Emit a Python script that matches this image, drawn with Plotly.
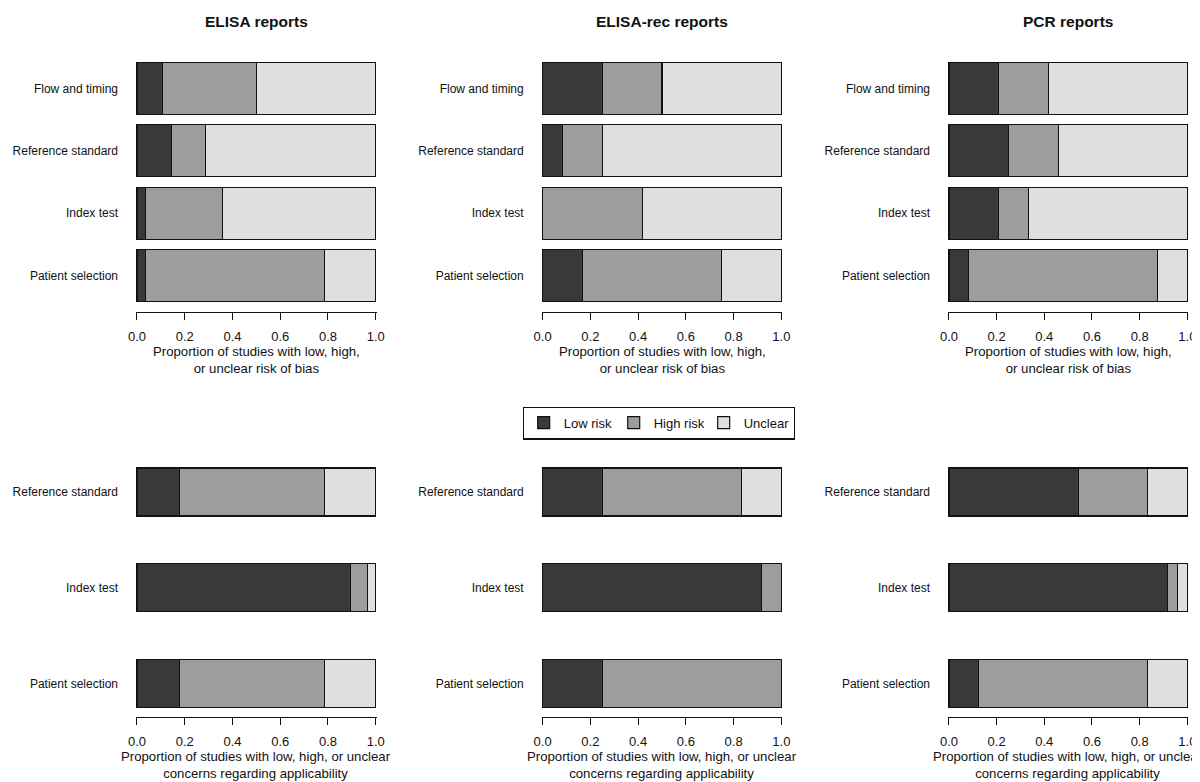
import plotly.graph_objects as go

# ---------------- data ----------------
panel_titles = ["ELISA reports", "ELISA-rec reports", "PCR reports"]
bias_domains = ["Patient selection", "Index test", "Reference standard", "Flow and timing"]
appl_domains = ["Patient selection", "Index test", "Reference standard"]
series_names = ["Low risk", "High risk", "Unclear"]
tick_vals = [0.0, 0.2, 0.4, 0.6, 0.8, 1.0]

# risk of bias (order follows bias_domains)
elisa_bias_low = [0.036, 0.036, 0.143, 0.107]
elisa_bias_high = [0.750, 0.321, 0.143, 0.393]
elisa_bias_unclear = [0.214, 0.643, 0.714, 0.500]

elisarec_bias_low = [0.167, 0.000, 0.083, 0.250]
elisarec_bias_high = [0.583, 0.417, 0.167, 0.250]
elisarec_bias_unclear = [0.250, 0.583, 0.750, 0.500]

pcr_bias_low = [0.083, 0.208, 0.250, 0.208]
pcr_bias_high = [0.792, 0.125, 0.208, 0.208]
pcr_bias_unclear = [0.125, 0.667, 0.542, 0.583]

# applicability concerns (order follows appl_domains)
elisa_appl_low = [0.179, 0.893, 0.179]
elisa_appl_high = [0.607, 0.071, 0.607]
elisa_appl_unclear = [0.214, 0.036, 0.214]

elisarec_appl_low = [0.250, 0.917, 0.250]
elisarec_appl_high = [0.750, 0.083, 0.583]
elisarec_appl_unclear = [0.000, 0.000, 0.167]

pcr_appl_low = [0.125, 0.917, 0.542]
pcr_appl_high = [0.708, 0.042, 0.291]
pcr_appl_unclear = [0.167, 0.041, 0.167]

bias_title = "Proportion of studies with low, high,<br>or unclear risk of bias"
appl_title = "Proportion of studies with low, high, or unclear<br>concerns regarding applicability"

# ---------------- styling ----------------
colors = ["#393939", "#9d9d9d", "#dfdfdf"]
FONT = "Liberation Sans, Arial, sans-serif"
W, H = 1200, 782
OFF = 8  # page body margin offset

def px_x(p):
    return (p - OFF) / W

def px_y(p):
    return 1 - (p - OFF) / H

x_domains = [(136, 376.7), (541.7, 782.3), (948, 1188.3)]
top_ydom = (311.7, 52.3)
bot_ydom = (716.7, 458.7)

bias_sets = [
    (elisa_bias_low, elisa_bias_high, elisa_bias_unclear),
    (elisarec_bias_low, elisarec_bias_high, elisarec_bias_unclear),
    (pcr_bias_low, pcr_bias_high, pcr_bias_unclear),
]
appl_sets = [
    (elisa_appl_low, elisa_appl_high, elisa_appl_unclear),
    (elisarec_appl_low, elisarec_appl_high, elisarec_appl_unclear),
    (pcr_appl_low, pcr_appl_high, pcr_appl_unclear),
]

fig = go.Figure()
layout = {}
annotations = []

ax_idx = 0
for row, (sets, domains, ydom, yr, bw, atitle, tcy) in enumerate([
    (bias_sets, bias_domains, top_ydom, [-0.577, 3.577], 0.833, bias_title, 360),
    (appl_sets, appl_domains, bot_ydom, [-0.348, 2.348], 0.5, appl_title, 764.5),
]):
    for col in range(3):
        ax_idx += 1
        xa = "x" if ax_idx == 1 else f"x{ax_idx}"
        ya = "y" if ax_idx == 1 else f"y{ax_idx}"
        ypos = list(range(len(domains)))
        for s in range(3):
            fig.add_trace(go.Bar(
                x=sets[col][s], y=ypos, orientation="h", width=bw,
                name=series_names[s], legendgroup=series_names[s],
                showlegend=(ax_idx == 1),
                marker=dict(color=colors[s], line=dict(color="#111111", width=1.2)),
                xaxis=xa, yaxis=ya,
            ))
        xkey = "xaxis" if ax_idx == 1 else f"xaxis{ax_idx}"
        ykey = "yaxis" if ax_idx == 1 else f"yaxis{ax_idx}"
        layout[xkey] = dict(
            domain=[px_x(x_domains[col][0]), px_x(x_domains[col][1])],
            anchor=ya, range=[-0.004, 1.004], automargin=False,
            tickvals=tick_vals, tickformat=".1f",
            showgrid=False, zeroline=False, showline=True,
            linecolor="#111111", linewidth=1.2,
            ticks="outside", ticklen=7, tickwidth=1.2, tickcolor="#111111",
            ticklabelstandoff=6,
            tickfont=dict(size=13, color="#111111", family=FONT),
            fixedrange=True,
        )
        layout[ykey] = dict(
            domain=[px_y(ydom[0]), px_y(ydom[1])],
            anchor=xa, range=yr, automargin=False,
            tickvals=ypos, ticktext=domains,
            showgrid=False, zeroline=False, showline=False, ticks="",
            ticklabelstandoff=17,
            tickfont=dict(size=12, color="#111111", family=FONT),
            fixedrange=True,
        )
        cx = (x_domains[col][0] + x_domains[col][1]) / 2
        annotations.append(dict(
            text=atitle, x=px_x(cx), y=px_y(tcy), xref="paper", yref="paper",
            xanchor="center", yanchor="middle", showarrow=False,
            font=dict(size=13.2, color="#111111", family=FONT),
        ))
        if row == 0:
            annotations.append(dict(
                text="<b>" + panel_titles[col] + "</b>", x=px_x(cx), y=px_y(22),
                xref="paper", yref="paper", xanchor="center", yanchor="middle",
                showarrow=False, font=dict(size=15.5, color="#111111", family=FONT),
            ))

fig.update_layout(
    **layout,
    annotations=annotations,
    barmode="stack",
    width=W, height=H,
    margin=dict(l=0, r=0, t=0, b=0, autoexpand=False),
    paper_bgcolor="white", plot_bgcolor="white",
    font=dict(family=FONT, color="#111111"),
    legend=dict(
        orientation="h", x=px_x(659), y=px_y(423), xanchor="center", yanchor="middle",
        bordercolor="#111111", borderwidth=1.2, bgcolor="white",
        font=dict(size=13, family=FONT, color="#111111"),
        itemwidth=30, entrywidth=45, traceorder="normal",
    ),
)

fig.write_html("out.html")
